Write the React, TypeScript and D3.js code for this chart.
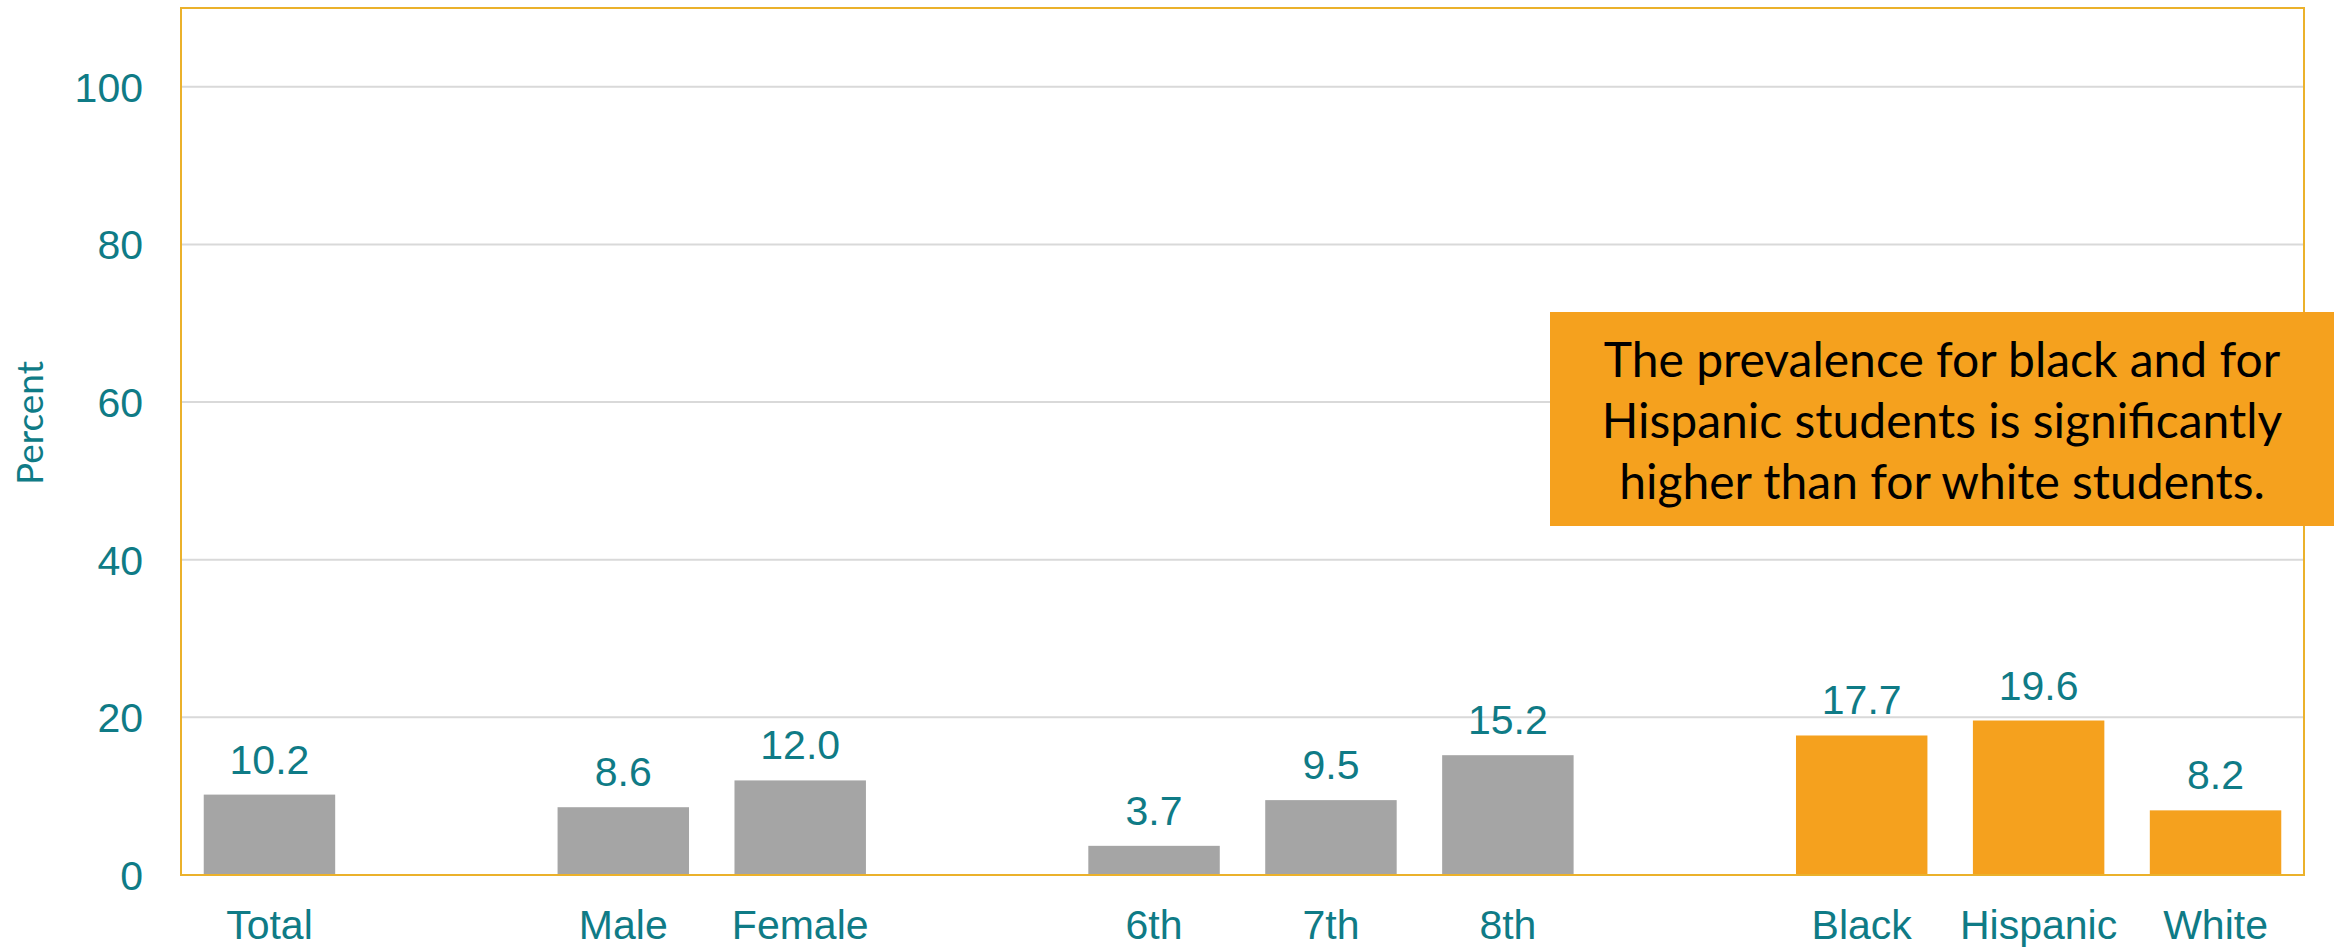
import * as d3 from 'd3';
import React, { useEffect, useRef } from 'react';

// chart data
const categories = ['Total', 'Male', 'Female', '6th', '7th', '8th', 'Black', 'Hispanic', 'White'];
const values = [10.2, 8.6, 12.0, 3.7, 9.5, 15.2, 17.7, 19.6, 8.2];
const groupSizes = [1, 2, 3, 3]; // bars per group, an empty slot between groups
const highlighted = ['Black', 'Hispanic', 'White'];
const yTicks = [0, 20, 40, 60, 80, 100];
const yMax = 110;
const yLabel = 'Percent';
const noteLines = [
    'The prevalence for black and for',
    'Hispanic students is significantly',
    'higher than for white students.',
];

const TEAL = '#0F7B86';
const GREY = '#A5A5A5';
const ORANGE = '#F5A11E';
const FRAME = '#EBB12B';

export default function App() {
    const ref = useRef<SVGSVGElement>(null);

    useEffect(() => {
        const width = 2341;
        const height = 948;
        const margin = { top: 8, right: 37, bottom: 73, left: 181 };
        const innerW = width - margin.left - margin.right;
        const innerH = height - margin.top - margin.bottom;

        const svg = d3.select(ref.current);
        svg.selectAll('*').remove();

        // slots: categories with blank gaps between groups
        const slots: string[] = [];
        let k = 0;
        groupSizes.forEach((n, gi) => {
            for (let i = 0; i < n; i++) slots.push(categories[k++]);
            if (gi < groupSizes.length - 1) slots.push(`gap${gi}`);
        });

        const x = d3.scaleBand()
            .domain(slots)
            .range([0, innerW])
            .paddingInner(0.257)
            .paddingOuter(0.1285);

        const y = d3.scaleLinear()
            .domain([0, yMax])
            .range([innerH, 0]);

        const g = svg.append('g')
            .attr('transform', `translate(${margin.left},${margin.top})`);

        // gridlines
        g.append('g')
            .selectAll('line')
            .data(yTicks.filter((t) => t > 0))
            .enter()
            .append('line')
            .attr('x1', 0)
            .attr('x2', innerW)
            .attr('y1', (d) => y(d))
            .attr('y2', (d) => y(d))
            .attr('stroke', '#D9D9D9')
            .attr('stroke-width', 2);

        // tick labels
        g.append('g')
            .selectAll('text')
            .data(yTicks)
            .enter()
            .append('text')
            .attr('x', -38)
            .attr('y', (d) => y(d) + 15)
            .attr('text-anchor', 'end')
            .attr('fill', TEAL)
            .attr('font-family', 'Liberation Sans, Arial, sans-serif')
            .attr('font-size', 41)
            .text((d) => d);

        // bars
        const data = categories.map((c, i) => ({ cat: c, value: values[i] }));
        g.append('g')
            .selectAll('rect')
            .data(data)
            .enter()
            .append('rect')
            .attr('x', (d) => x(d.cat)!)
            .attr('width', x.bandwidth())
            .attr('y', (d) => y(d.value))
            .attr('height', (d) => innerH - y(d.value))
            .attr('fill', (d) => (highlighted.includes(d.cat) ? ORANGE : GREY));

        // value labels
        g.append('g')
            .selectAll('text')
            .data(data)
            .enter()
            .append('text')
            .attr('x', (d) => x(d.cat)! + x.bandwidth() / 2)
            .attr('y', (d) => y(d.value) - 21)
            .attr('text-anchor', 'middle')
            .attr('fill', TEAL)
            .attr('font-family', 'Liberation Sans, Arial, sans-serif')
            .attr('font-size', 41)
            .text((d) => d3.format('.1f')(d.value));

        // category labels
        g.append('g')
            .selectAll('text')
            .data(categories)
            .enter()
            .append('text')
            .attr('x', (d) => x(d)! + x.bandwidth() / 2)
            .attr('y', innerH + 64)
            .attr('text-anchor', 'middle')
            .attr('fill', TEAL)
            .attr('font-family', 'Liberation Sans, Arial, sans-serif')
            .attr('font-size', 41)
            .text((d) => d);

        // frame
        g.append('rect')
            .attr('x', 0)
            .attr('y', 0)
            .attr('width', innerW)
            .attr('height', innerH)
            .attr('fill', 'none')
            .attr('stroke', FRAME)
            .attr('stroke-width', 2);

        // Y axis label
        svg.append('text')
            .attr('text-anchor', 'middle')
            .attr('fill', TEAL)
            .attr('font-family', 'Lato, sans-serif')
            .attr('font-size', 37)
            .attr('transform', `translate(43,423)rotate(-90)`)
            .text(yLabel);

        // note box
        const note = svg.append('g').attr('transform', 'translate(1550,312)');
        note.append('rect')
            .attr('width', 784)
            .attr('height', 214)
            .attr('fill', ORANGE);
        note.selectAll('text')
            .data(noteLines)
            .enter()
            .append('text')
            .attr('x', 392)
            .attr('y', (d, i) => 65 + i * 61)
            .attr('text-anchor', 'middle')
            .attr('fill', '#000')
            .attr('font-family', 'Lato, sans-serif')
            .attr('font-size', 48)
            .text((d) => d);
    }, []);

    return (
        <svg
            ref={ref}
            width={2341}
            height={948}
            style={{ position: 'absolute', left: 0, top: 0, background: 'white' }}
        />
    );
}
